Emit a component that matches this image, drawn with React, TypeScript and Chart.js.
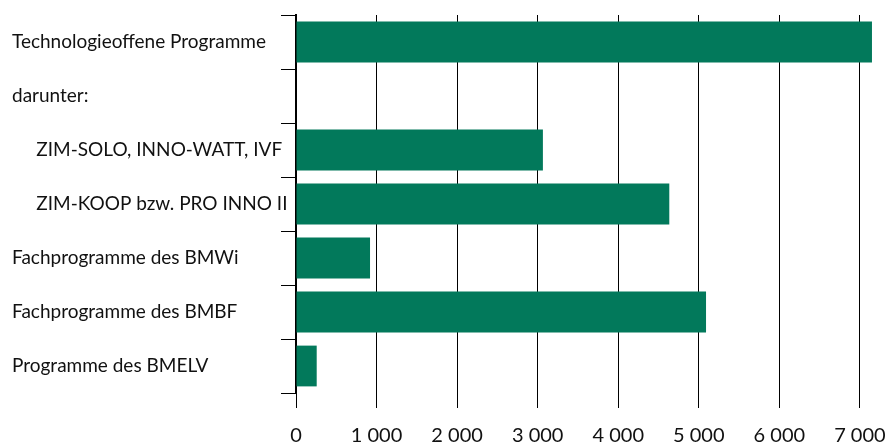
import React, { useEffect, useRef } from "react";
import { Chart, registerables } from "chart.js";

Chart.register(...registerables);

const categories = [
  "Technologieoffene Programme",
  "darunter:",
  "ZIM-SOLO, INNO-WATT, IVF",
  "ZIM-KOOP bzw. PRO INNO II",
  "Fachprogramme des BMWi",
  "Fachprogramme des BMBF",
  "Programme des BMELV",
];
const indented = [false, false, true, true, false, false, false];
const values = [7150, 0, 3065, 4634, 919, 5090, 257];
const xTicks = [0, 1000, 2000, 3000, 4000, 5000, 6000, 7000];

const FONT = "Lato";
const GREEN = "rgb(2,121,91)";

function fmt(v: number) {
  return String(v).replace(/\B(?=(\d{3})+(?!\d))/g, " ");
}

export default function App() {
  const ref = useRef<HTMLCanvasElement | null>(null);
  useEffect(() => {
    if (!ref.current) return;
    const chart = new Chart(ref.current, {
      type: "bar",
      data: {
        labels: categories.map((c, i) => (indented[i] ? "     " + c : c)),
        datasets: [
          {
            data: values,
            backgroundColor: GREEN,
            borderWidth: 0,
            barPercentage: 0.755,
            categoryPercentage: 1,
          },
        ],
      },
      options: {
        indexAxis: "y",
        animation: false,
        responsive: false,
        maintainAspectRatio: false,
        layout: { padding: { left: 12, top: 15, right: 9, bottom: 0 } },
        plugins: { legend: { display: false }, tooltip: { enabled: false } },
        scales: {
          x: {
            min: 0,
            max: 7200,
            afterBuildTicks: (scale: any) => {
              scale.ticks = xTicks.map((v) => ({ value: v }));
            },
            afterFit: (scale: any) => {
              scale.height = 50;
              scale.paddingLeft = 0;
              scale.paddingRight = 0;
            },
            border: { display: false },
            grid: {
              color: "#000",
              lineWidth: 1,
              tickLength: 15,
              drawOnChartArea: true,
            },
            ticks: {
              color: "#111",
              font: { family: FONT, size: 20 },
              padding: 16,
              maxRotation: 0,
              autoSkip: false,
              callback: (v: any) => fmt(Number(v)),
            },
          },
          y: {
            afterFit: (scale: any) => {
              scale.width = 284;
              scale.paddingTop = 0;
              scale.paddingBottom = 0;
            },
            border: { display: true, color: "#000", width: 2 },
            grid: {
              offset: true,
              color: "#000",
              lineWidth: 1,
              tickLength: 15,
              drawOnChartArea: false,
            },
            ticks: {
              color: "#111",
              crossAlign: "far",
              font: { family: FONT, size: 19 },
              autoSkip: false,
            },
          },
        },
      },
    } as any);
    return () => chart.destroy();
  }, []);
  return (
    <div style={{ position: "fixed", left: 0, top: 0, width: 885, height: 443, background: "#fff" }}>
      <canvas ref={ref} width={885} height={443} style={{ width: 885, height: 443 }} />
    </div>
  );
}
